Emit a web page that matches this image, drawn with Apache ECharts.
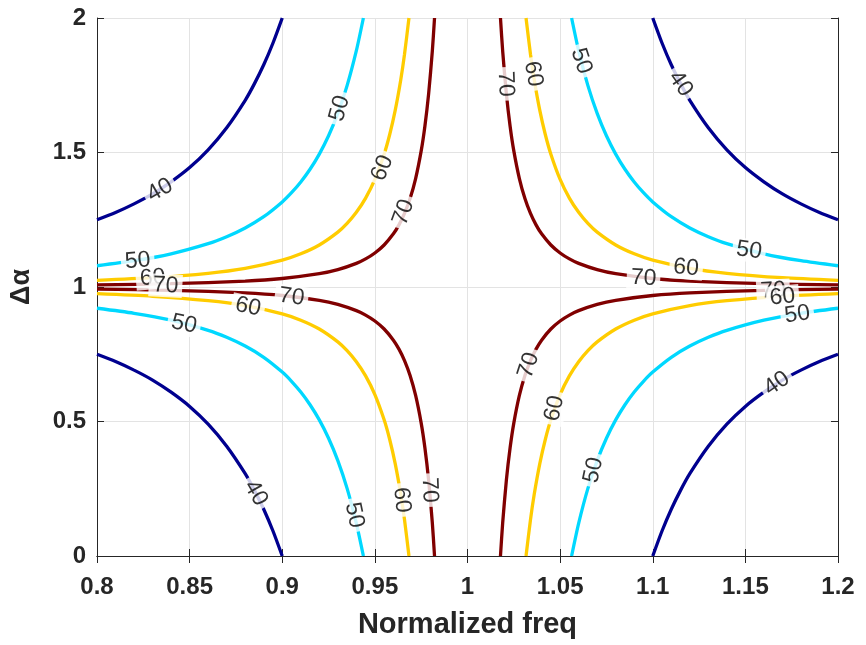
<!DOCTYPE html>
<html>
<head>
<meta charset="utf-8">
<script src="https://cdn.jsdelivr.net/npm/echarts/dist/echarts.min.js"></script>
<style>html,body{margin:0;padding:0;background:#fff}#c{width:866px;height:645px}</style>
</head>
<body>
<div id="c"></div>
<script>
// Contour levels
const levels = [40, 50, 60, 70];
// Each contour is a symmetric hyperbola-like curve around (1, 1).
// Offsets from freq=1 (|f-1|) and from Δα=1 (|Δα-1|).
const freqOff40  = [0.2, 0.19, 0.18, 0.17, 0.16, 0.15, 0.14, 0.13, 0.12, 0.115, 0.11, 0.105, 0.1];
const alphaOff40 = [0.25, 0.277, 0.309, 0.346, 0.391, 0.444, 0.510, 0.592, 0.694, 0.756, 0.826, 0.907, 1.0];
const freqOff50  = [0.2, 0.18, 0.16, 0.14, 0.13, 0.12, 0.11, 0.1, 0.095, 0.09, 0.085, 0.08, 0.075, 0.07, 0.065, 0.06, 0.0562];
const alphaOff50 = [0.079, 0.0976, 0.1235, 0.1613, 0.1871, 0.2196, 0.2613, 0.3162, 0.3504, 0.3904, 0.4377, 0.4941, 0.5622, 0.6454, 0.7485, 0.8784, 1.0];
const freqOff60  = [0.2, 0.17, 0.14, 0.12, 0.1, 0.09, 0.08, 0.07, 0.065, 0.06, 0.055, 0.05, 0.045, 0.042, 0.039, 0.036, 0.034, 0.0316];
const alphaOff60 = [0.025, 0.0346, 0.051, 0.0694, 0.1, 0.1235, 0.1563, 0.2041, 0.2367, 0.2778, 0.3306, 0.4, 0.4938, 0.5669, 0.6575, 0.7716, 0.8651, 1.0];
const freqOff70  = [0.2, 0.16, 0.12, 0.1, 0.08, 0.07, 0.06, 0.055, 0.05, 0.045, 0.04, 0.037, 0.034, 0.031, 0.028, 0.025, 0.023, 0.021, 0.019, 0.0178];
const alphaOff70 = [0.0079, 0.01235, 0.02196, 0.0316, 0.0494, 0.0645, 0.0878, 0.1045, 0.1265, 0.1562, 0.1976, 0.2310, 0.2735, 0.3290, 0.4033, 0.506, 0.5978, 0.7170, 0.876, 1.0];

// Inline contour labels: [freq, Δα, text]
const contourLabels = [
  [0.834, 1.360, '40'], [0.931, 1.664, '50'], [0.822, 1.097, '50'], [0.954, 1.442, '60'],
  [0.830, 1.034, '60'], [0.9655, 1.278, '70'], [0.837, 1.005, '70'], [0.905, 0.963, '70'],
  [0.8815, 0.926, '60'], [0.847, 0.862, '50'], [0.8857, 0.234, '40'], [0.9389, 0.152, '50'],
  [0.9645, 0.208, '60'], [0.9795, 0.245, '70'], [1.0205, 1.755, '70'], [1.0355, 1.792, '60'],
  [1.0614, 1.840, '50'], [1.115, 1.755, '40'], [1.152, 1.136, '50'], [1.118, 1.071, '60'],
  [1.095, 1.033, '70'], [1.165, 0.986, '70'], [1.170, 0.963, '60'], [1.178, 0.898, '50'],
  [1.033, 0.709, '70'], [1.047, 0.549, '60'], [1.068, 0.319, '50'], [1.167, 0.641, '40']
];
const labelAngles = [30, 75, 5, 68, 5, 70, -3, -8, -12, -12, -60, -78, -85, -88, -88, -80, -72, -55, -8, -5, -3, 3, 5, 8, 72, 78, 78, 35];

const xTicks = { min: 0.8, max: 1.2, step: 0.05 };
const yTicks = { min: 0, max: 2, step: 0.5 };

const offsets = { 40: [freqOff40, alphaOff40], 50: [freqOff50, alphaOff50], 60: [freqOff60, alphaOff60], 70: [freqOff70, alphaOff70] };
const colors = { 40: '#00008f', 50: '#00d8ff', 60: '#ffcc00', 70: '#800000' };

const series = [];
levels.forEach(lv => {
  const [fo, ao] = offsets[lv];
  [[-1, -1], [-1, 1], [1, -1], [1, 1]].forEach(([sx, sy]) => {
    series.push({
      type: 'line', name: String(lv), silent: true, symbol: 'none', showSymbol: false,
      smooth: 0.25, z: 2,
      lineStyle: { color: colors[lv], width: 3.3 },
      data: fo.map((d, i) => [1 + sx * d, 1 + sy * ao[i]])
    });
  });
});
const labelBase = {
  show: true, position: 'inside',
  fontFamily: 'Liberation Sans, Arial, sans-serif', fontSize: 23, fontWeight: 'normal', color: '#000000',
  textBorderWidth: 0, textBorderColor: 'transparent', textShadowBlur: 0,
  backgroundColor: '#ffffff', padding: [0, 4]
};
series.push({
  type: 'scatter', silent: true, z: 10, symbolSize: 1,
  itemStyle: { color: 'rgba(0,0,0,0)' },
  data: contourLabels.map((l, i) => ({
    value: [l[0], l[1]], name: l[2],
    label: Object.assign({}, labelBase, { rotate: labelAngles[i], formatter: l[2] })
  })),
  label: labelBase,
  labelLayout: { hideOverlap: false }
});

const axisText = { fontFamily: 'Liberation Sans, Arial, sans-serif', fontWeight: 'bold', color: '#262626' };
const tickStyle = { inside: true, length: 7, lineStyle: { color: '#262626' } };
const lineStyle = { lineStyle: { color: '#262626', width: 1 } };
const splitStyle = { show: true, lineStyle: { color: '#e3e3e3', width: 1 } };
const chart = echarts.init(document.getElementById('c'), null, { renderer: 'canvas' });
chart.setOption({
  animation: false,
  backgroundColor: '#fff',
  grid: { left: 97, right: 28, top: 18, bottom: 89 },
  xAxis: [{
    type: 'value', min: xTicks.min, max: xTicks.max, interval: xTicks.step,
    name: 'Normalized freq', nameLocation: 'middle', nameGap: 54,
    nameTextStyle: Object.assign({ fontSize: 29 }, axisText),
    axisLine: lineStyle, axisTick: tickStyle,
    axisLabel: Object.assign({ fontSize: 24, margin: 19, formatter: v => String(+v.toFixed(2)) }, axisText),
    splitLine: splitStyle
  }, {
    type: 'value', position: 'top', min: xTicks.min, max: xTicks.max, interval: xTicks.step,
    axisLine: { show: true, lineStyle: { color: '#262626', width: 1 } }, axisTick: tickStyle,
    axisLabel: { show: false }, splitLine: { show: false }
  }],
  yAxis: [{
    type: 'value', min: yTicks.min, max: yTicks.max, interval: yTicks.step,
    name: 'Δα', nameLocation: 'middle', nameGap: 62, nameRotate: 90,
    nameTextStyle: Object.assign({ fontSize: 27 }, axisText),
    axisLine: lineStyle, axisTick: tickStyle,
    axisLabel: Object.assign({ fontSize: 24, margin: 11, formatter: v => String(+v.toFixed(2)) }, axisText),
    splitLine: splitStyle
  }, {
    type: 'value', position: 'right', min: yTicks.min, max: yTicks.max, interval: yTicks.step,
    axisLine: { show: true, lineStyle: { color: '#262626', width: 1 } }, axisTick: tickStyle,
    axisLabel: { show: false }, splitLine: { show: false }
  }],
  series: series
});
</script>
</body>
</html>
